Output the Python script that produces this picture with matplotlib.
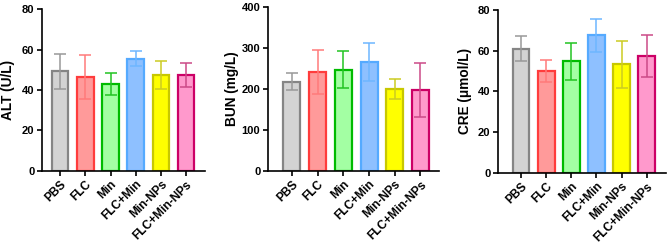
import matplotlib
matplotlib.use("Agg")
import matplotlib.pyplot as plt
import numpy as np

plt.rcParams['font.family'] = ['Liberation Sans', 'DejaVu Sans']
plt.rcParams['font.weight'] = 'bold'

groups = ["PBS", "FLC", "Min", "FLC+Min", "Min-NPs", "FLC+Min-NPs"]
alt_mean = [49.2, 46.5, 42.8, 55.6, 47.4, 47.4]
alt_sd = [8.7, 11.0, 5.5, 3.8, 7.0, 6.0]
bun_mean = [217, 241, 246, 265, 200, 196]
bun_sd = [21, 53, 45, 47, 24, 66]
cre_mean = [61.0, 50.0, 54.8, 67.5, 53.3, 57.4]
cre_sd = [6.2, 5.3, 9.2, 8.3, 11.6, 10.3]

fill_colors = ["#d3d3d3", "#ff9a9a", "#a3ffa3", "#8ec0ff", "#ffff00", "#ff99cc"]
edge_colors = ["#858585", "#ff3c3c", "#00bb00", "#55aaff", "#c8c800", "#cc0066"]
err_colors = ["#999999", "#ff7a7a", "#22c422", "#6eb6ff", "#cccc22", "#cc4a88"]

W, H = 669, 249
fig = plt.figure(figsize=(W / 100, H / 100), dpi=100)

panels = [
    dict(rect=[42, 170.7, 205, 9.3], mean=alt_mean, sd=alt_sd, ylim=80, step=20,
         label="ALT (U/L)", xlim=(-0.72, 5.75), lx=15),
    dict(rect=[268, 170.7, 439, 6.7], mean=bun_mean, sd=bun_sd, ylim=400, step=100,
         label="BUN (mg/L)", xlim=(-0.93, 5.72), lx=239),
    dict(rect=[498, 172.7, 666, 10], mean=cre_mean, sd=cre_sd, ylim=80, step=20,
         label="CRE (\u03bcmol/L)", xlim=(-0.92, 5.77), lx=472),
]

x = np.arange(len(groups))
for p in panels:
    l, b, r, t = p["rect"]
    ax = fig.add_axes([l / W, 1 - b / H, (r - l) / W, (b - t) / H])
    ax.bar(x, p["mean"], width=0.66, color=fill_colors, edgecolor=edge_colors,
           linewidth=1.6, zorder=2)
    for i in range(len(groups)):
        ax.errorbar(x[i], p["mean"][i], yerr=p["sd"][i], fmt='none',
                    ecolor=err_colors[i], elinewidth=1.1, capsize=4.5,
                    capthick=1.1, zorder=3)
    ax.set_ylim(0, p["ylim"])
    ax.set_xlim(*p["xlim"])
    ax.set_yticks(np.arange(0, p["ylim"] + 1, p["step"]))
    ax.set_xticks(x)
    ax.set_xticklabels(groups, rotation=45, ha='right', rotation_mode='anchor',
                       fontsize=8.6, fontweight='bold')
    for lab in ax.get_yticklabels():
        lab.set_fontsize(8.0)
        lab.set_fontweight('bold')
    ax.spines['top'].set_visible(False)
    ax.spines['right'].set_visible(False)
    ax.spines['left'].set_linewidth(1.2)
    ax.spines['bottom'].set_linewidth(1.2)
    ax.tick_params(axis='both', direction='out', length=3.5, width=1.2, pad=2)
    ax.set_ylabel(p["label"], fontsize=9.8, fontweight='bold')
    ax.yaxis.set_label_coords((p["lx"] - l) / (r - l), 0.5)

fig.savefig("out.png", dpi=100)
